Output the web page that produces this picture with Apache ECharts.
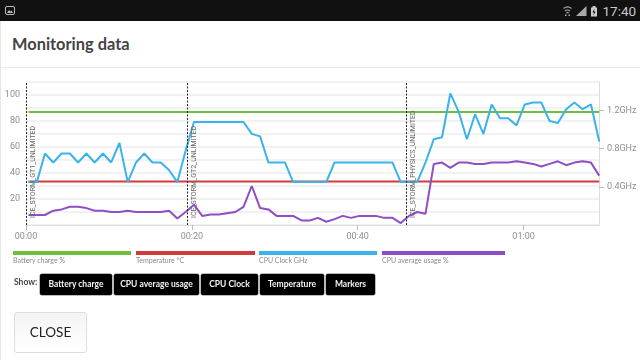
<!DOCTYPE html>
<html><head><meta charset="utf-8">
<script src="https://cdn.jsdelivr.net/npm/echarts@6/dist/echarts.min.js"></script>
<style>
html,body{margin:0;padding:0;width:640px;height:360px;background:#fff;overflow:hidden;font-family:Lato,"Open Sans",sans-serif}
.abs{position:absolute;white-space:nowrap}
#chart{position:absolute;left:0;top:0;width:640px;height:360px}
.btn{position:absolute;top:274px;height:21px;background:#000;color:#f4f4f4;border-radius:2px;font:bold 8.5px/20px Lato,sans-serif;text-align:center;box-shadow:0 0 0 .5px #777;white-space:nowrap}
.bar{position:absolute;top:251px;height:4px}
.leg{position:absolute;top:254px;font:7px/12px Lato,sans-serif;color:#8a8a8a;white-space:nowrap}
</style></head><body>
<div class="abs" style="left:0;top:0;width:640px;height:21px;background:#111"></div>
<div class="abs" style="left:0;top:21px;width:1px;height:339px;background:#e6e6e6"></div>
<svg class="abs" style="left:0;top:0" width="640" height="21">
<rect x="5.5" y="6.5" width="9" height="8" rx="1.5" fill="none" stroke="#bbb"/><path d="M7 13l2-3 1.500 1.500 1-1 1.500 2.500z" fill="#bbb"/>
<path d="M563.500 8.500a6.500 6.500 0 0 1 8 0M565 11a4 4 0 0 1 5 0M566.300 13a2 2 0 0 1 2.400 0" fill="none" stroke="#aaa" stroke-width="1.200"/><rect x="565" y="14.500" width="1.500" height="1.500" fill="#aaa"/><rect x="568.500" y="14.500" width="1.500" height="1.500" fill="#aaa"/>
<path d="M576 16L586.500 6V16z" fill="#aaa"/>
<path d="M591 7.500h1.500v-1.500h3v1.500h1.500v9h-6z" fill="#ccc"/>
<path d="M594.500 8.500l-2 4h1.500l-.5 3 2-4h-1.500z" fill="#111"/>
</svg>
<div class="abs" style="left:602.500px;top:1px;font:13.5px/20px Roboto,sans-serif;color:#c8c8c8">17:40</div>
<div class="abs" style="left:12px;top:33px;font:bold 16.400px/22px Lato,sans-serif;color:#444">Monitoring data</div>
<div class="abs" style="left:0;top:67px;width:640px;height:1px;background:#eaeaea"></div>
<div id="chart"></div>
<div class="bar" style="left:13px;width:118px;background:#6fbf3c"></div>
<div class="bar" style="left:136px;width:119px;background:#d23b3b"></div>
<div class="bar" style="left:259px;width:118px;background:#3bb3ea"></div>
<div class="bar" style="left:382px;width:123px;background:#8e4ec6"></div>
<div class="leg" style="left:13px">Battery charge %</div>
<div class="leg" style="left:136px">Temperature °C</div>
<div class="leg" style="left:259px">CPU Clock GHz</div>
<div class="leg" style="left:382px">CPU average usage %</div>
<div class="abs" style="left:14px;top:275px;font:bold 8.5px/14px Lato,sans-serif;color:#444">Show:</div>
<div class="btn" style="left:40px;width:72px">Battery charge</div>
<div class="btn" style="left:114px;width:85px">CPU average usage</div>
<div class="btn" style="left:201px;width:57px">CPU Clock</div>
<div class="btn" style="left:260px;width:64px">Temperature</div>
<div class="btn" style="left:326px;width:49px">Markers</div>
<div class="abs" style="left:14px;top:312px;width:71px;height:39px;border:1px solid #ddd;border-radius:3px;background:linear-gradient(#f4f4f4,#fff);font:13.5px/39px Lato,sans-serif;color:#222;text-align:center">CLOSE</div>
<script>
var minutes=[0.3,1.3,2.29,3.29,4.29,5.29,6.28,7.28,8.28,9.28,10.27,11.27,12.27,13.27,14.26,15.26,16.26,17.26,18.25,19.25,20.25,21.25,22.24,23.24,24.24,25.24,26.23,27.23,28.23,29.23,30.22,31.22,32.22,33.22,34.21,35.21,36.21,37.21,38.2,39.2,40.2,41.2,42.19,43.19,44.19,45.19,46.18,47.18,48.18,49.18,50.17,51.17,52.17,53.17,54.16,55.16,56.16,57.16,58.15,59.15,60.15,61.15,62.14,63.14,64.14,65.14,66.13,67.13,68.13,69.13];
var batteryCharge=[87,87,87,87,87,87,87,87,87,87,87,87,87,87,87,87,87,87,87,87,87,87,87,87,87,87,87,87,87,87,87,87,87,87,87,87,87,87,87,87,87,87,87,87,87,87,87,87,87,87,87,87,87,87,87,87,87,87,87,87,87,87,87,87,87,87,87,87,87,87];
var temperature=[33.5,33.5,33.5,33.5,33.5,33.5,33.5,33.5,33.5,33.5,33.5,33.5,33.5,33.5,33.5,33.5,33.5,33.5,33.5,33.5,33.5,33.5,33.5,33.5,33.5,33.5,33.5,33.5,33.5,33.5,33.5,33.5,33.5,33.5,33.5,33.5,33.5,33.5,33.5,33.5,33.5,33.5,33.5,33.5,33.5,33.5,33.5,33.5,33.5,33.5,33.5,33.5,33.5,33.5,33.5,33.5,33.5,33.5,33.5,33.5,33.5,33.5,33.5,33.5,33.5,33.5,33.5,33.5,33.5,33.5];
var cpuClock=[0.45,0.45,0.75,0.656,0.75,0.75,0.656,0.75,0.656,0.75,0.656,0.86,0.45,0.656,0.75,0.656,0.656,0.574,0.45,0.78,1.08,1.08,1.08,1.08,1.08,1.08,1.08,0.956,0.93,0.656,0.656,0.656,0.45,0.45,0.45,0.45,0.45,0.656,0.656,0.656,0.656,0.656,0.656,0.656,0.656,0.45,0.45,0.45,0.656,0.9,0.92,1.38,1.19,0.9,1.16,0.956,1.265,1.12,1.12,1.045,1.265,1.285,1.285,1.09,1.07,1.215,1.285,1.215,1.265,0.875];
var cpuUsage=[7.7,7.7,7.7,11,12,14,14,13,11,11,10,10,11,10,10,10,10,11,5,10,15.6,7,8,8,9,10,14,30,13,12,7,7,7,3.5,3.5,5.5,2.5,4.5,7,5.5,7,7,7,5.5,5.5,1.5,7,10,8.7,47,48,44,48,48,47,47,48,48,48,49,48,47,45,47,49,46,48,49,48,38];
var markerMinutes=[0,19.4,45.9];
var markerNames=['ICE_STORM_GT1_UNLIMITED','ICE_STORM_GT2_UNLIMITED','ICE_STORM_PHYSICS_UNLIMITED'];
var pairs=function(v){return minutes.map(function(m,i){return [m,v[i]];});};
var fmtTime=function(v){var h=Math.floor(v/60),m=Math.round(v%60);return (h<10?'0':'')+h+':'+(m<10?'0':'')+m;};
var grey='#8f8f8f';
var chart=echarts.init(document.getElementById('chart'),null,{renderer:'canvas'});
chart.setOption({
 animation:false,
 grid:{left:26,right:41,top:82,bottom:135},
 xAxis:{type:'value',min:0,max:69.1,interval:20,splitLine:{show:false},
  axisLine:{show:true,lineStyle:{color:'#ddd'}},
  axisTick:{show:true,length:5,lineStyle:{color:'#bbb'}},
  axisLabel:{color:grey,fontSize:9,fontFamily:'Roboto',margin:7,showMaxLabel:false,formatter:fmtTime}},
 yAxis:[
  {type:'value',min:0,max:110,interval:10,axisLine:{show:false},axisTick:{show:false},
   splitLine:{show:true,lineStyle:{color:'#eeeeee',width:1.5}},
   axisLabel:{color:grey,fontSize:9,fontFamily:'Roboto',margin:6,formatter:function(v){return (v>0&&v<110&&v%20===0)?String(v):'';}}},
  {type:'value',min:0,max:1.5,interval:0.4,position:'right',splitLine:{show:false},
   axisLine:{show:true,lineStyle:{color:'#ddd'}},
   axisTick:{show:true,length:5,lineStyle:{color:'#bbb'}},
   axisLabel:{color:grey,fontSize:9,fontFamily:'Roboto',margin:8,showMinLabel:false,showMaxLabel:false,formatter:function(v){return v.toFixed(1)+'GHz';}}}
 ],
 series:[
  {name:'Battery charge %',type:'line',data:pairs(batteryCharge),showSymbol:false,lineStyle:{color:'#6fbf3c',width:2}},
  {name:'Temperature °C',type:'line',data:pairs(temperature),showSymbol:false,lineStyle:{color:'#d23b3b',width:2},
   markLine:{silent:true,symbol:'none',animation:false,
    lineStyle:{color:'#222',type:[2,1.5],width:1},
    label:{show:true,position:'insideStartBottom',formatter:'{b}',color:'#666',fontSize:7,fontFamily:'Roboto',distance:[7,3.5]},
    data:markerMinutes.map(function(m,i){return {xAxis:m,name:markerNames[i]};})}},
  {name:'CPU Clock GHz',type:'line',yAxisIndex:1,data:pairs(cpuClock),showSymbol:false,lineStyle:{color:'#3bb3ea',width:2}},
  {name:'CPU average usage %',type:'line',data:pairs(cpuUsage),showSymbol:false,lineStyle:{color:'#8e4ec6',width:2}}
 ]
});
</script>
</body></html>
